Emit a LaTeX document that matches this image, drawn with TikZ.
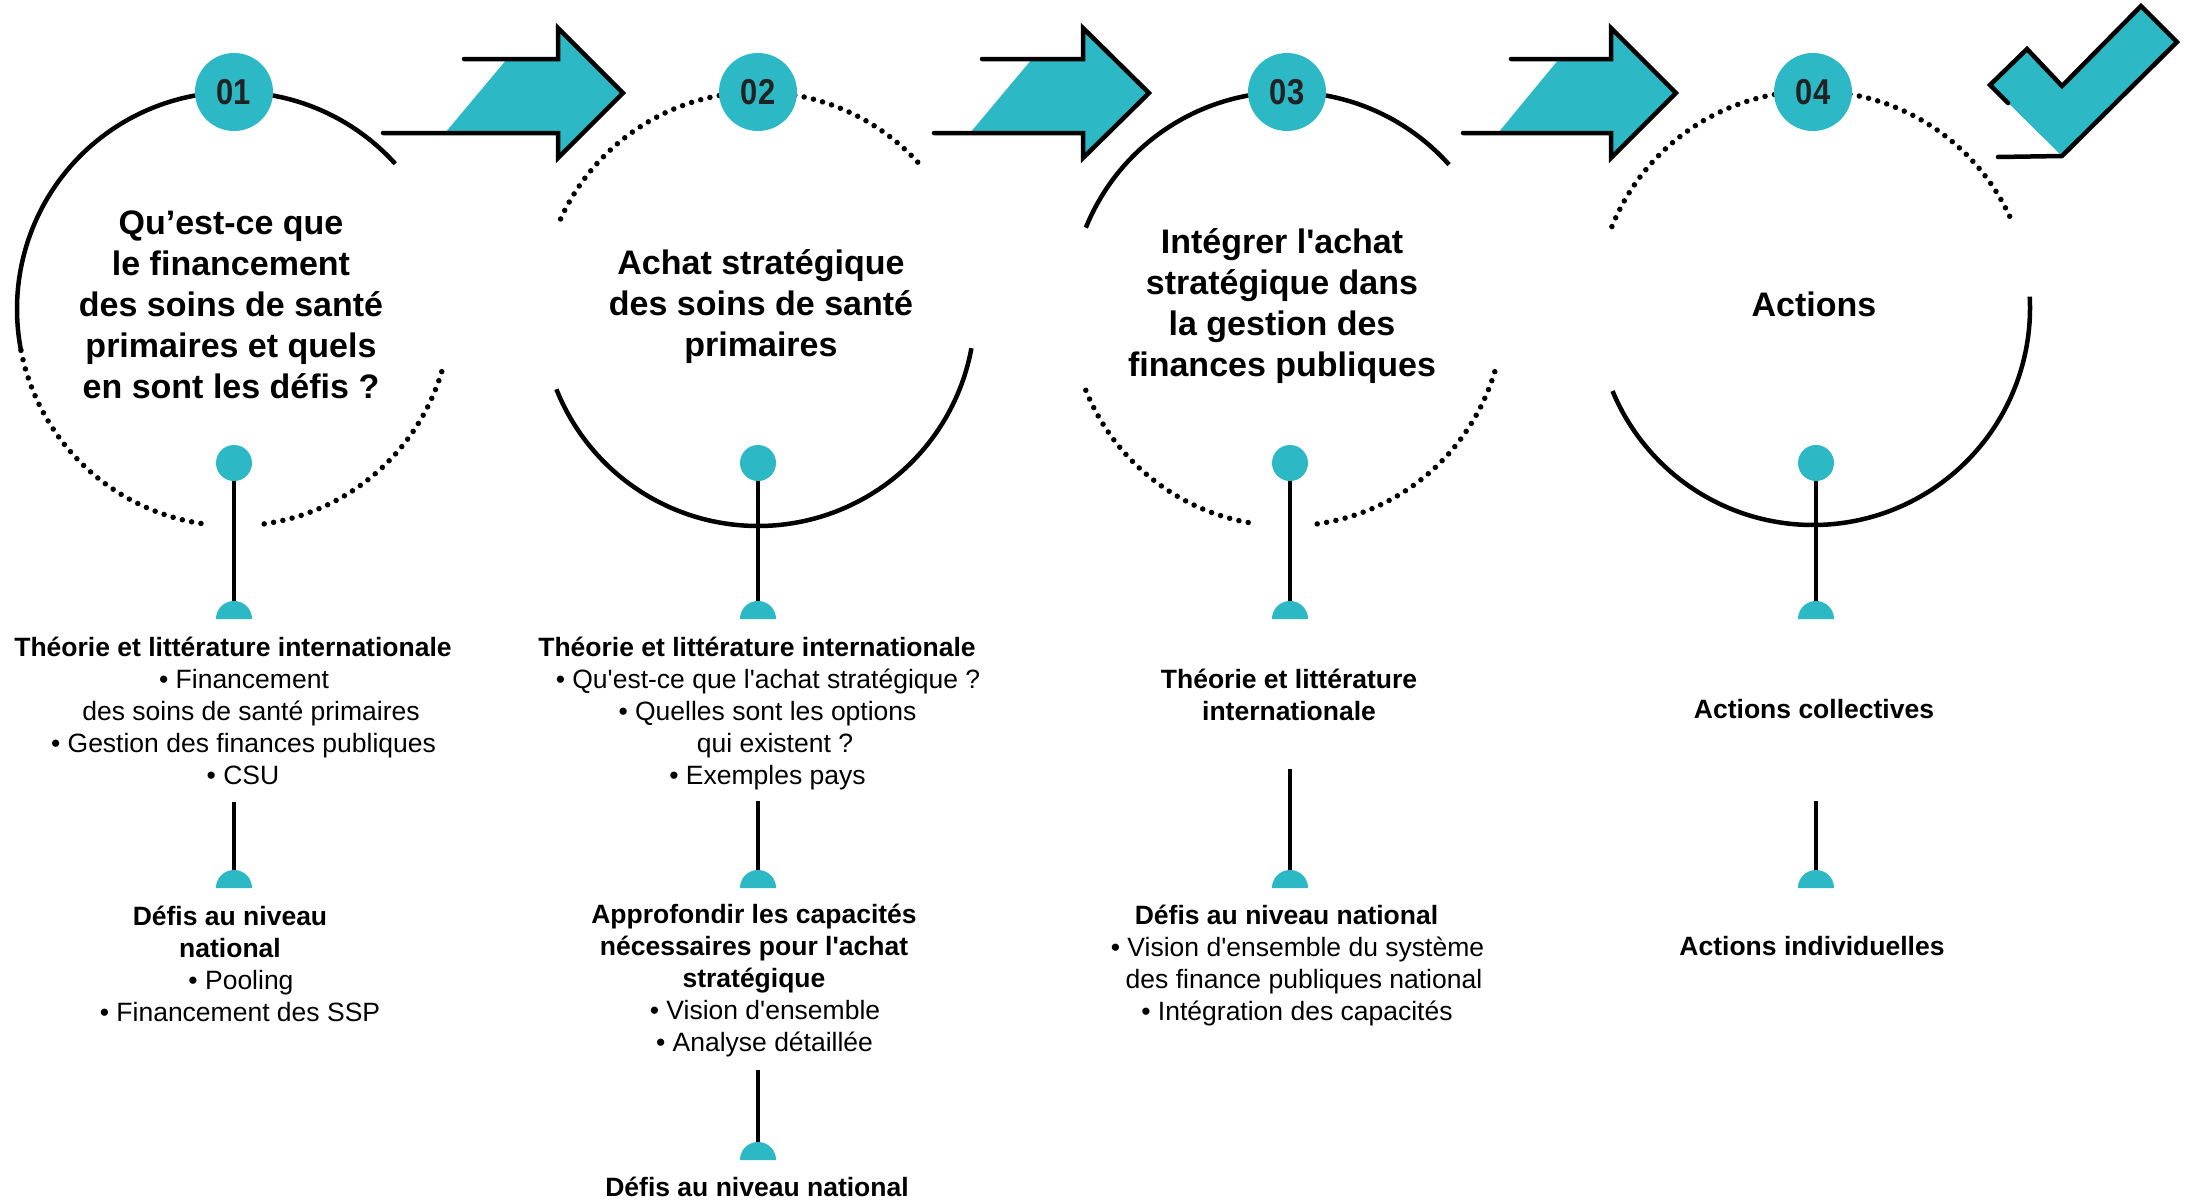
\documentclass[tikz,border=0pt]{standalone}
\usepackage{fontspec}
\setmainfont{Liberation Sans}
\definecolor{mycyan}{HTML}{2DB8C5}
\definecolor{digit}{HTML}{222222}
\newcommand\sq{\textquotesingle}
% arc of a big circle: style, cx, cy, from angle, to angle (math angles, image y down)
\newcommand\carc[5]{\draw[#1] plot[domain=#4:#5, samples=140, variable=\t] ({#2+217*cos(\t)},{#3-217*sin(\t)});}
% half disc with flat base at (x, base)
\newcommand\hdisc[2]{\fill[mycyan] plot[domain=0:180, samples=40, variable=\t] ({#1+18*cos(\t)},{#2-18*sin(\t)}) -- cycle;}
\begin{document}
\begin{tikzpicture}[x=1pt,y=-1pt,
  ln/.style={line width=4.5pt, black},
  dotln/.style={line width=5.5pt, black, line cap=round, dash pattern=on 0pt off 9.5pt},
  badgenode/.style={circle, fill=mycyan, minimum size=78pt, inner sep=0pt, text=digit,
     font=\fontsize{36}{36}\selectfont\bfseries},
  pinnode/.style={circle, fill=mycyan, minimum size=36pt, inner sep=0pt},
  ttl/.style={anchor=north, align=center, inner sep=0pt, font=\fontsize{34}{41}\selectfont\bfseries},
  bdy/.style={anchor=north, align=center, inner sep=0pt, font=\fontsize{26.5}{32}\selectfont},
  arrowline/.style={line width=4.5pt, black, line join=miter, line cap=round}
]
\fill[white] (0,0) rectangle (2185,1203);
\useasboundingbox (0,0) rectangle (2185,1203);

% ---- big circles ----
\carc{ln}{234}{309}{42}{191}
\carc{dotln}{234}{309}{191}{261.5}
\carc{dotln}{234}{309}{278}{343.6}

\carc{dotln}{758}{309}{42.6}{157.8}
\carc{ln}{758}{309}{201.7}{349.6}

\carc{ln}{1287}{309}{41.7}{158}
\carc{dotln}{1287}{309}{202}{262}
\carc{dotln}{1287}{309}{278}{344}

\carc{dotln}{1813}{308}{25}{158.8}
\carc{ln}{1813}{308}{202.5}{363}

% ---- arrows ----
\fill[mycyan] (445,133) -- (507,59) -- (558,59) -- (558,28) -- (623,93) -- (558,158) -- (558,133) -- cycle;
\draw[arrowline] (464,59) -- (558,59) -- (558,28) -- (623,93) -- (558,158) -- (558,133) -- (383,133);

\fill[mycyan] (970,133) -- (1032,59) -- (1083,59) -- (1083,28) -- (1149,93) -- (1083,158) -- (1083,133) -- cycle;
\draw[arrowline] (982,59) -- (1083,59) -- (1083,28) -- (1149,93) -- (1083,158) -- (1083,133) -- (934,133);

\fill[mycyan] (1498,133) -- (1559,59) -- (1611,59) -- (1611,28) -- (1676,93) -- (1611,158) -- (1611,133) -- cycle;
\draw[arrowline] (1511,59) -- (1611,59) -- (1611,28) -- (1676,93) -- (1611,158) -- (1611,133) -- (1463,133);

% ---- check mark ----
\fill[mycyan] (1990,85) -- (2027,49) -- (2062,86) -- (2141,6) -- (2177,42) -- (2062,156) -- cycle;
\draw[arrowline] (2008,103) -- (1990,85) -- (2027,49) -- (2062,86) -- (2141,6) -- (2177,42) -- (2062,156) -- (1998,157);

% ---- badges ----
\node[badgenode] (b1) at (234,92) {\scalebox{0.86}[1]{01}};
\node[badgenode] (b2) at (758,92) {\scalebox{0.86}[1]{02}};
\node[badgenode] (b3) at (1287,92) {\scalebox{0.86}[1]{03}};
\node[badgenode] (b4) at (1813,92) {\scalebox{0.86}[1]{04}};

% ---- titles ----
\node[ttl] (t1) at (231,207) {\rule{0pt}{27pt}Qu’est-ce que\\le financement\\des soins de santé\\primaires et quels\\en sont les défis ?};
\node[ttl] (t2) at (761,247) {\rule{0pt}{27pt}Achat stratégique\\des soins de santé\\primaires};
\node[ttl] (t3) at (1282,226) {\rule{0pt}{27pt}Intégrer l\sq achat\\stratégique dans\\la gestion des\\finances publiques};
\node[ttl] (t4) at (1814,289) {\rule{0pt}{27pt}Actions};

% ---- pins and connectors ----
\node[pinnode] (p1) at (234,463) {};
\node[pinnode] (p2) at (758,463) {};
\node[pinnode] (p3) at (1290,463) {};
\node[pinnode] (p4) at (1816,463) {};

\coordinate (h1a) at (234,601);
\coordinate (h2a) at (758,601);
\coordinate (h3a) at (1290,601);
\coordinate (h4a) at (1816,601);
\draw[ln] (p1) -- (h1a);
\draw[ln] (p2) -- (h2a);
\draw[ln] (p3) -- (h3a);
\draw[ln] (p4) -- (h4a);
\hdisc{234}{619}
\hdisc{758}{619}
\hdisc{1290}{619}
\hdisc{1816}{619}

\coordinate (s1b) at (234,802);  \coordinate (h1b) at (234,870);
\coordinate (s2b) at (758,801);  \coordinate (h2b) at (758,870);
\coordinate (s3b) at (1290,769); \coordinate (h3b) at (1290,870);
\coordinate (s4b) at (1816,801); \coordinate (h4b) at (1816,870);
\draw[ln] (s1b) -- (h1b);
\draw[ln] (s2b) -- (h2b);
\draw[ln] (s3b) -- (h3b);
\draw[ln] (s4b) -- (h4b);
\hdisc{234}{888}
\hdisc{758}{888}
\hdisc{1290}{888}
\hdisc{1816}{888}

\coordinate (s2c) at (758,1070); \coordinate (h2c) at (758,1142);
\draw[ln] (s2c) -- (h2c);
\hdisc{758}{1160}

% ---- body texts ----
\node[bdy] (x1a) at (233,636) {\rule{0pt}{20pt}\textbf{Théorie et littérature internationale}\\
 \hspace*{22pt}• Financement\\
 \hspace*{36pt}des soins de santé primaires\\
 \hspace*{21pt}• Gestion des finances publiques\\
 \hspace*{20pt}• CSU};
\node[bdy] (x1b) at (230,905) {\rule{0pt}{20pt}\textbf{Défis au niveau}\\
 \textbf{national}\\
 \hspace*{22pt}• Pooling\\
 \hspace*{20pt}• Financement des SSP};

\node[bdy] (x2a) at (757,636) {\rule{0pt}{20pt}\textbf{Théorie et littérature internationale}\\
 \hspace*{22pt}• Qu\sq est-ce que l\sq achat stratégique ?\\
 \hspace*{21pt}• Quelles sont les options\\
 \hspace*{36pt}qui existent ?\\
 \hspace*{21pt}• Exemples pays};
\node[bdy] (x2b) at (754,903) {\rule{0pt}{20pt}\textbf{Approfondir les capacités}\\
 \textbf{nécessaires pour l\sq achat}\\
 \textbf{stratégique}\\
 \hspace*{22pt}• Vision d\sq ensemble\\
 \hspace*{21pt}• Analyse détaillée};
\node[bdy] (x2c) at (757,1176) {\rule{0pt}{20pt}\textbf{Défis au niveau national}};

\node[bdy] (x3a) at (1289,668) {\rule{0pt}{20pt}\textbf{Théorie et littérature}\\
 \textbf{internationale}};
\node[bdy] (x3b) at (1286.5,904) {\rule{0pt}{20pt}\textbf{Défis au niveau national}\\
 \hspace*{22pt}• Vision d\sq ensemble du système\\
 \hspace*{35pt}des finance publiques national\\
 \hspace*{21pt}• Intégration des capacités};

\node[bdy] (x4a) at (1814,698) {\rule{0pt}{20pt}\textbf{Actions collectives}};
\node[bdy] (x4b) at (1812,935) {\rule{0pt}{20pt}\textbf{Actions individuelles}};
\end{tikzpicture}
\end{document}
